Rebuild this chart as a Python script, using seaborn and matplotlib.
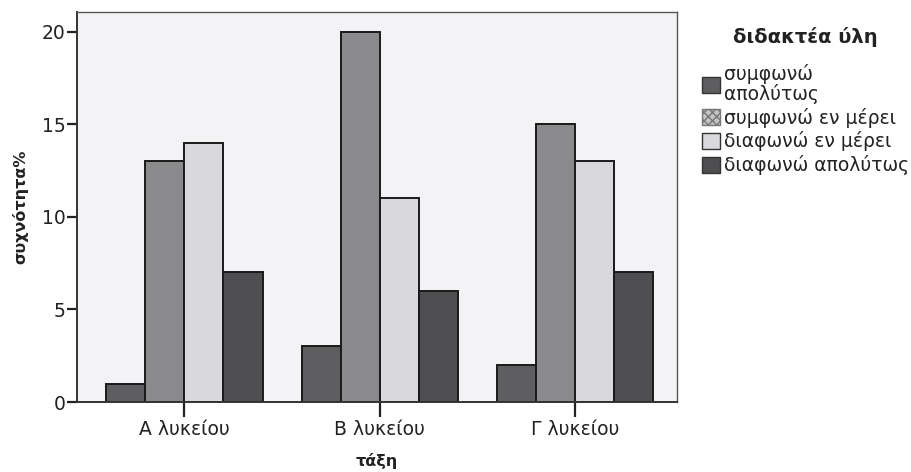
import matplotlib
matplotlib.use("Agg")
import matplotlib.pyplot as plt
from matplotlib.patches import Patch
import seaborn as sns
import pandas as pd

classes = ["Α λυκείου", "Β λυκείου", "Γ λυκείου"]
opinions = ["συμφωνώ απολύτως", "συμφωνώ εν μέρει", "διαφωνώ εν μέρει", "διαφωνώ απολύτως"]
legend_labels = ["συμφωνώ\nαπολύτως", "συμφωνώ εν μέρει", "διαφωνώ εν μέρει", "διαφωνώ απολύτως"]
agree_fully = [1, 3, 2]
agree_partly = [13, 20, 15]
disagree_partly = [14, 11, 13]
disagree_fully = [7, 6, 7]
y_ticks = [0, 5, 10, 15, 20]

bar_colors = ["#5e5e60", "#8a8a8c", "#d9d9dd", "#4e4e50"]

rows = []
for series, name in zip([agree_fully, agree_partly, disagree_partly, disagree_fully], opinions):
    for cls, v in zip(classes, series):
        rows.append({"τάξη": cls, "διδακτέα ύλη": name, "συχνότητα%": v})
df = pd.DataFrame(rows)

sns.set_theme(style="white")
plt.rcParams["font.family"] = ["DejaVu Sans"]

fig = plt.figure(figsize=(9.12, 4.72), dpi=100)
fig.patch.set_facecolor("white")
ax = fig.add_axes([0.0844, 0.1483, 0.6576, 0.8263])
ax.set_facecolor("#f3f3f5")

sns.barplot(data=df, x="τάξη", y="συχνότητα%", hue="διδακτέα ύλη",
            order=classes, hue_order=opinions, palette=bar_colors,
            width=0.8, edgecolor="#1a1a1a", linewidth=1.4,
            errorbar=None, legend=False, ax=ax, saturation=1)

ax.set_xlim(-0.55, 2.52)
ax.set_ylim(0, 21.08)
ax.set_yticks(y_ticks)
ax.set_yticklabels([str(t) for t in y_ticks], fontsize=13.5, color="#222222")
ax.tick_params(axis="y", direction="out", length=7, width=1.6, color="#222222", left=True, pad=1)
ax.tick_params(axis="x", direction="out", length=11, width=1.6, color="#222222", bottom=True, pad=2, labelsize=13.5, labelcolor="#222222")

for side in ["left", "bottom"]:
    ax.spines[side].set_color("#333333")
    ax.spines[side].set_linewidth(1.4)
for side in ["top", "right"]:
    ax.spines[side].set_color("#555555")
    ax.spines[side].set_linewidth(1.0)

ax.set_xlabel("τάξη", fontsize=11.5, fontweight="bold", color="#222222", labelpad=10)
ax.set_ylabel("συχνότητα%", fontsize=11.5, fontweight="bold", color="#222222", labelpad=10)

handles = [
    Patch(facecolor=bar_colors[0], edgecolor="#333333", linewidth=1.0),
    Patch(facecolor="#c4c4c6", edgecolor="#777777", linewidth=1.0, hatch="xxxx"),
    Patch(facecolor=bar_colors[2], edgecolor="#333333", linewidth=1.0),
    Patch(facecolor=bar_colors[3], edgecolor="#333333", linewidth=1.0),
]
leg = fig.legend(handles, legend_labels, title="διδακτέα ύλη",
                 loc="upper left", bbox_to_anchor=(0.762, 0.958),
                 frameon=False, fontsize=13.5, title_fontsize=14,
                 handlelength=0.95, handleheight=0.95, handletextpad=0.2,
                 labelspacing=0.2, borderaxespad=0)
leg.get_title().set_fontweight("bold")
leg.get_title().set_color("#222222")
leg._legend_box.sep = 12
for t in leg.get_texts():
    t.set_color("#222222")
    t.set_linespacing(1.0)

fig.savefig("out.png", dpi=100)
